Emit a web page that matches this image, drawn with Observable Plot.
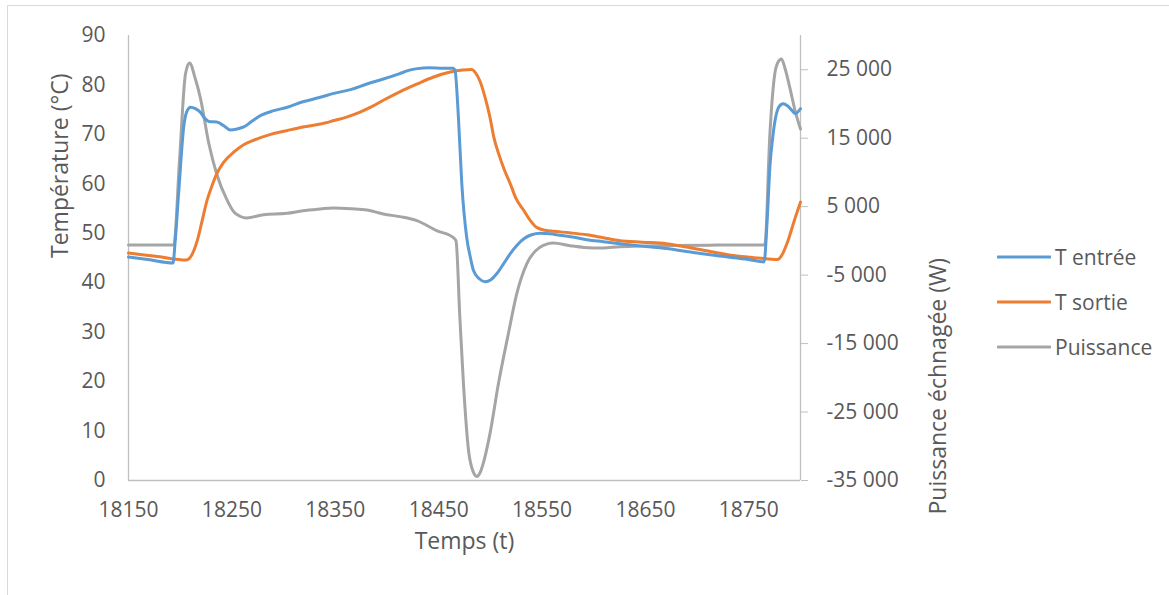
<!DOCTYPE html>
<html>
<head>
<meta charset="utf-8">
<script src="https://cdn.jsdelivr.net/npm/d3@7"></script>
<script src="https://cdn.jsdelivr.net/npm/@observablehq/plot@0.6"></script>
<style>
  html, body { margin: 0; padding: 0; background: #fff; overflow: hidden; }
  #wrap { position: relative; width: 1169px; height: 595px; font-family: "Open Sans", sans-serif; color: #595959; }
  #frame { position: absolute; left: 7px; top: 5px; width: 1300px; height: 800px; border: 1.3px solid #d9d9d9; box-sizing: border-box; }
  #chart { position: absolute; left: 0; top: 0; }
  #legend { position: absolute; left: 997px; top: 0; }
  .item { position: absolute; left: 0; display: flex; align-items: center; white-space: nowrap; font-size: 21px; }
  .item svg { display: block; margin-right: 4px; }
</style>
</head>
<body>
<div id="wrap">
  <div id="frame"></div>
  <div id="chart"></div>
  <div id="legend"></div>
</div>
<script>
// ---- Data ----
const xTicks = [18150, 18250, 18350, 18450, 18550, 18650, 18750];
const yTicks = [0, 10, 20, 30, 40, 50, 60, 70, 80, 90];
const pTicks = [-35000, -25000, -15000, -5000, 5000, 15000, 25000];

const seriesNames = ["T entrée", "T sortie", "Puissance"];
const seriesColors = ["#5B9BD5", "#ED7D31", "#A5A5A5"];

// T entrée (°C)
const entreeTime = [18150, 18168.7, 18193.1, 18195.0, 18198.7, 18203.4, 18206.2, 18210.0, 18214.7, 18219.4, 18224.0, 18227.8, 18235.3, 18241.8, 18248.4, 18255.0, 18261.5, 18269.0, 18277.5, 18290.6, 18303.7, 18318.7, 18335.6, 18348.7, 18365.6, 18380.6, 18396.5, 18412.4, 18421.8, 18429.3, 18440.5, 18454.6, 18464.0, 18465.8, 18469.1, 18472.4, 18477.1, 18480.8, 18483.6, 18489.3, 18494.9, 18500.5, 18506.1, 18512.7, 18519.3, 18525.8, 18532.4, 18539.9, 18548.3, 18557.7, 18567.1, 18581.1, 18593.3, 18609.2, 18625.2, 18646.7, 18670.1, 18693.6, 18721.7, 18749.8, 18764.8, 18767.6, 18770.4, 18773.2, 18776.0, 18778.9, 18783.2, 18787.3, 18792.0, 18794.8, 18800];
const entreeValue = [45.2, 44.7, 44.0, 48, 58.7, 71.5, 74.5, 75.5, 75.2, 74.5, 73.2, 72.6, 72.5, 71.8, 70.9, 71.1, 71.5, 72.6, 73.8, 74.8, 75.5, 76.6, 77.5, 78.3, 79.1, 80.2, 81.2, 82.3, 83.0, 83.3, 83.5, 83.4, 83.4, 83.0, 73.5, 60, 49.2, 45.0, 42.5, 40.8, 40.2, 40.6, 41.8, 43.8, 45.9, 47.6, 48.9, 49.7, 50.0, 49.9, 49.6, 49.2, 48.7, 48.3, 47.9, 47.4, 46.9, 46.2, 45.4, 44.7, 44.2, 52, 63.4, 69.5, 73.5, 75.5, 76.2, 75.8, 74.8, 74.2, 75.2];

// T sortie (°C)
const sortieTime = [18150, 18178.1, 18206.2, 18210.9, 18216.5, 18221.2, 18225.9, 18230.6, 18235.3, 18241.8, 18251.8, 18260.6, 18270.9, 18285.9, 18303.7, 18318.7, 18335.6, 18348.7, 18360.9, 18374.0, 18384.3, 18396.5, 18412.4, 18429.3, 18445.2, 18461.2, 18473.3, 18481.8, 18485.5, 18489.7, 18494.9, 18499.6, 18503.3, 18508.0, 18513.6, 18519.3, 18524.9, 18532.4, 18538.9, 18544.6, 18553.0, 18561.0, 18576.4, 18593.3, 18609.2, 18625.2, 18646.7, 18670.1, 18702.9, 18734.8, 18759.2, 18777.9, 18781.7, 18787.9, 18793.9, 18800];
const sortieValue = [46.0, 45.3, 44.6, 45.5, 48.5, 52.5, 56.6, 59.5, 62.0, 64.3, 66.4, 67.8, 68.8, 69.9, 70.8, 71.5, 72.1, 72.8, 73.5, 74.5, 75.5, 76.9, 78.6, 80.2, 81.6, 82.6, 83.0, 83.1, 82.5, 80.9, 77.5, 73.5, 69.5, 66.1, 62.8, 60.0, 57.0, 54.6, 52.5, 51.2, 50.6, 50.4, 50.1, 49.7, 49.1, 48.5, 48.2, 47.9, 46.7, 45.5, 45.0, 44.7, 45.5, 48.5, 52.5, 56.3];

// Puissance (W)
const puissTime = [18150, 18193.8, 18199.4, 18205.1, 18209.0, 18214.7, 18219.4, 18227.8, 18235.3, 18245.6, 18252.2, 18257.8, 18264.3, 18280.7, 18303.3, 18318.7, 18335.6, 18347.7, 18365.6, 18380.6, 18396.5, 18412.4, 18428.9, 18448.0, 18464.0, 18466.8, 18470.5, 18474.0, 18478.9, 18483.6, 18486.9, 18490.2, 18493.0, 18499.6, 18507.8, 18517.4, 18525.5, 18535.2, 18548.0, 18561.0, 18577.1, 18590.5, 18609.2, 18625.2, 18638.3, 18670.1, 18712.3, 18765.5, 18770.4, 18775.1, 18777.9, 18781.6, 18785.4, 18789.6, 18794.8, 18800];
const puissValue = [-600, -600, 11900, 24370, 26000, 23640, 20960, 14150, 9770, 5876, 4170, 3600, 3350, 3830, 4020, 4400, 4660, 4810, 4700, 4520, 3930, 3540, 2960, 1500, 500, 0, -11160, -20880, -30620, -33790, -34400, -33800, -32570, -28190, -20880, -13590, -7750, -3370, -940, -300, -700, -950, -1030, -840, -800, -690, -620, -590, 15650, 24370, 26000, 26560, 25000, 22420, 19000, 16340];

// ---- Secondary axis mapping ----
const pMin = -35000, pMax = 30000, tMin = 0, tMax = 90;
const toT = p => tMin + (p - pMin) * (tMax - tMin) / (pMax - pMin);
const fromT = t => pMin + (t - tMin) * (pMax - pMin) / (tMax - tMin);
const fmtP = v => (v < 0 ? "-" : "") + d3.format(",")(Math.abs(Math.round(v))).replace(/,/g, " ");

const entree = entreeTime.map((t, i) => ({t, v: entreeValue[i]}));
const sortie = sortieTime.map((t, i) => ({t, v: sortieValue[i]}));
const puiss = puissTime.map((t, i) => ({t, v: toT(puissValue[i])}));

const axisColor = "#BFBFBF";
const textColor = "#595959";

const chart = Plot.plot({
  width: 1169,
  height: 595,
  marginLeft: 128,
  marginRight: 369,
  marginTop: 35,
  marginBottom: 115,
  style: {fontFamily: "'Open Sans', sans-serif", fontSize: "21px", color: textColor, background: "transparent", overflow: "visible"},
  x: {domain: [18150, 18800]},
  y: {domain: [tMin, tMax]},
  marks: [
    Plot.ruleX([18150], {stroke: axisColor, strokeWidth: 1.3}),
    Plot.ruleX([18800], {stroke: axisColor, strokeWidth: 1.3}),
    Plot.ruleY([0], {stroke: axisColor, strokeWidth: 1.3}),
    Plot.axisX({ticks: xTicks, tickSize: 0, tickPadding: 22, tickFormat: d => String(d), label: null, fontSize: 21, fill: textColor}),
    Plot.axisY({ticks: yTicks, tickSize: 0, tickPadding: 23, label: null, fontSize: 21, fill: textColor}),
    Plot.axisY({anchor: "right", ticks: pTicks.map(toT), tickSize: 7, tickPadding: 19, stroke: axisColor, tickFormat: t => fmtP(fromT(t)), label: null, fontSize: 21, fill: textColor, textStroke: "none"}),
    Plot.line(puiss, {x: "t", y: "v", stroke: seriesColors[2], strokeWidth: 3, curve: "monotone-x"}),
    Plot.line(sortie, {x: "t", y: "v", stroke: seriesColors[1], strokeWidth: 3, curve: "monotone-x"}),
    Plot.line(entree, {x: "t", y: "v", stroke: seriesColors[0], strokeWidth: 3, curve: "monotone-x"}),
    Plot.text(["Température (°C)"], {frameAnchor: "left", dx: -68, rotate: -90, fontSize: 23, fill: textColor}),
    Plot.text(["Puissance échnagée (W)"], {frameAnchor: "right", dx: 138, rotate: -90, fontSize: 23, fill: textColor}),
    Plot.text(["Temps (t)"], {frameAnchor: "bottom", dy: 68, fontSize: 23, fill: textColor})
  ]
});
document.getElementById("chart").appendChild(chart);

// ---- Legend ----
const legend = document.getElementById("legend");
const legendY = [257, 302, 347];
seriesNames.forEach((name, i) => {
  const item = document.createElement("div");
  item.className = "item";
  item.style.top = (legendY[i] - 15) + "px";
  item.style.height = "30px";
  item.innerHTML = `<svg width="54" height="6"><line x1="1" y1="3" x2="53" y2="3" stroke="${seriesColors[i]}" stroke-width="3.2" stroke-linecap="round"/></svg><span>${name}</span>`;
  legend.appendChild(item);
});
</script>
</body>
</html>
